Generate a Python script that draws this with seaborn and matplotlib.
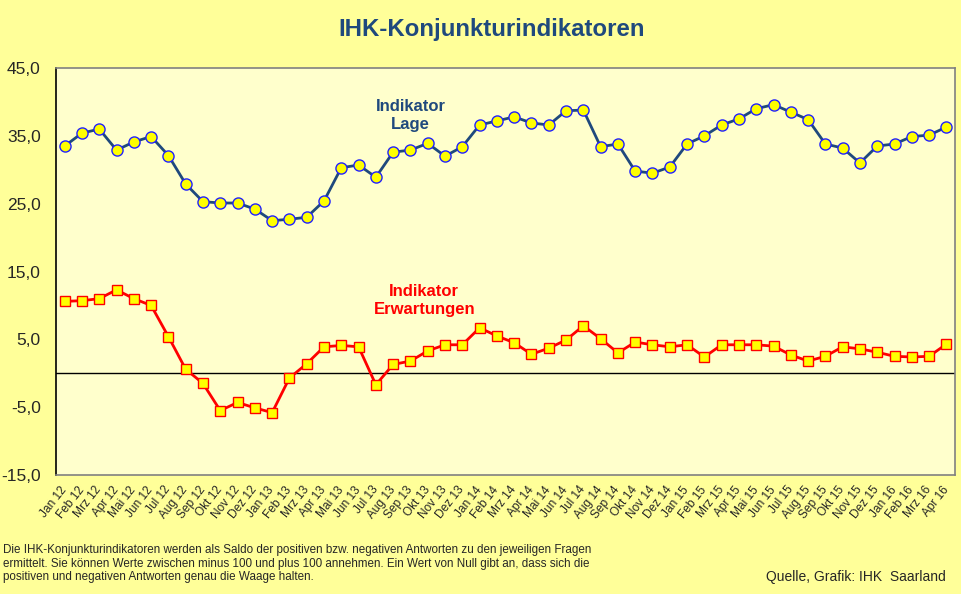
import pandas as pd
import matplotlib.pyplot as plt
import seaborn as sns

months = ['Jan 12', 'Feb 12', 'Mrz 12', 'Apr 12', 'Mai 12', 'Jun 12', 'Jul 12', 'Aug 12',
          'Sep 12', 'Okt 12', 'Nov 12', 'Dez 12',
          'Jan 13', 'Feb 13', 'Mrz 13', 'Apr 13', 'Mai 13', 'Jun 13', 'Jul 13', 'Aug 13',
          'Sep 13', 'Okt 13', 'Nov 13', 'Dez 13',
          'Jan 14', 'Feb 14', 'Mrz 14', 'Apr 14', 'Mai 14', 'Jun 14', 'Jul 14', 'Aug 14',
          'Sep 14', 'Okt 14', 'Nov 14', 'Dez 14',
          'Jan 15', 'Feb 15', 'Mrz 15', 'Apr 15', 'Mai 15', 'Jun 15', 'Jul 15', 'Aug 15',
          'Sep 15', 'Okt 15', 'Nov 15', 'Dez 15',
          'Jan 16', 'Feb 16', 'Mrz 16', 'Apr 16']

lage = [33.5, 35.4, 36.0, 32.9, 34.1, 34.9, 32.1, 27.9, 25.3, 25.1, 25.1, 24.2,
        22.5, 22.7, 23.0, 25.4, 30.3, 30.7, 28.9, 32.6, 32.9, 33.9, 32.0, 33.4,
        36.6, 37.2, 37.8, 36.9, 36.6, 38.7, 38.8, 33.4, 33.8, 29.8, 29.5, 30.4,
        33.8, 35.0, 36.6, 37.5, 39.0, 39.6, 38.5, 37.4, 33.8, 33.2, 31.0, 33.5,
        33.8, 34.9, 35.1, 36.3]

erwartungen = [10.6, 10.7, 11.0, 12.3, 11.0, 10.0, 5.4, 0.6, -1.5, -5.5, -4.3, -5.1,
               -5.8, -0.7, 1.4, 3.9, 4.1, 3.9, -1.7, 1.3, 1.8, 3.3, 4.2, 4.2,
               6.7, 5.5, 4.5, 2.8, 3.7, 4.9, 7.0, 5.1, 3.0, 4.6, 4.2, 3.9,
               4.2, 2.4, 4.2, 4.2, 4.2, 4.0, 2.7, 1.8, 2.5, 3.9, 3.6, 3.1,
               2.5, 2.4, 2.5, 4.3]

yticks = [45, 35, 25, 15, 5, -5, -15]

footnote = ("Die IHK-Konjunkturindikatoren werden als Saldo der positiven bzw. negativen Antworten zu den jeweiligen Fragen\n"
            "ermittelt. Sie können Werte zwischen minus 100 und plus 100 annehmen. Ein Wert von Null gibt an, dass sich die\n"
            "positiven und negativen Antworten genau die Waage halten.")

df = pd.DataFrame({'Monat': months, 'Lage': lage, 'Erwartungen': erwartungen})

sns.set_style("white")
plt.rcParams['font.family'] = ['Liberation Sans', 'DejaVu Sans']

fig = plt.figure(figsize=(9.61, 5.94), dpi=100, facecolor='#FFFF99')
ax = fig.add_axes([0.0583, 0.2003, 0.9355, 0.6852])
ax.set_facecolor('#FFFFCC')

ax.axhline(0, color='black', lw=1.0, zorder=1)

sns.lineplot(data=df, x='Monat', y='Lage', ax=ax, color='#1F497D', lw=2,
             marker='o', markersize=8, markerfacecolor='#FFFF00',
             markeredgecolor='#2020FF', markeredgewidth=1.0, zorder=3)
sns.lineplot(data=df, x='Monat', y='Erwartungen', ax=ax, color='#FF0000', lw=2,
             marker='s', markersize=7.5, markerfacecolor='#FFFF00',
             markeredgecolor='#FF0000', markeredgewidth=1.0, zorder=3)

ax.set_xlim(-0.5, len(months) - 0.5)
ax.set_ylim(-15, 45)
ax.set_yticks(yticks)
ax.set_yticklabels([f"{v:.1f}".replace('.', ',') for v in yticks], fontsize=12.5)
ax.set_xticks(range(len(months)))
ax.set_xticklabels(months, rotation=52, ha='right', va='center',
                   rotation_mode='anchor', fontsize=8.6)
ax.tick_params(axis='x', length=0, pad=9)
ax.tick_params(axis='y', length=0, pad=11)
ax.set_xlabel('')
ax.set_ylabel('')

for side in ['top', 'right', 'bottom']:
    ax.spines[side].set_color('#808080')
ax.spines['left'].set_color('black')
for s in ax.spines.values():
    s.set_linewidth(1.2)

ax.text(20.0, 38.0, 'Indikator\nLage', color='#1F497D', fontsize=12,
        fontweight='bold', ha='center', va='center', linespacing=1.25)
ax.text(20.8, 10.8, 'Indikator\nErwartungen', color='#FF0000', fontsize=12,
        fontweight='bold', ha='center', va='center', linespacing=1.25)

fig.text(0.512, 0.951, 'IHK-Konjunkturindikatoren', color='#1F497D', fontsize=17.3,
         fontweight='bold', ha='center', va='center')

fig.text(0.003, 0.0845, footnote, fontsize=8.4, ha='left', va='top',
         linespacing=1.2)
fig.text(0.984, 0.028, 'Quelle, Grafik: IHK  Saarland', fontsize=10,
         ha='right', va='center')

fig.savefig('out.png', dpi=100, facecolor=fig.get_facecolor())
